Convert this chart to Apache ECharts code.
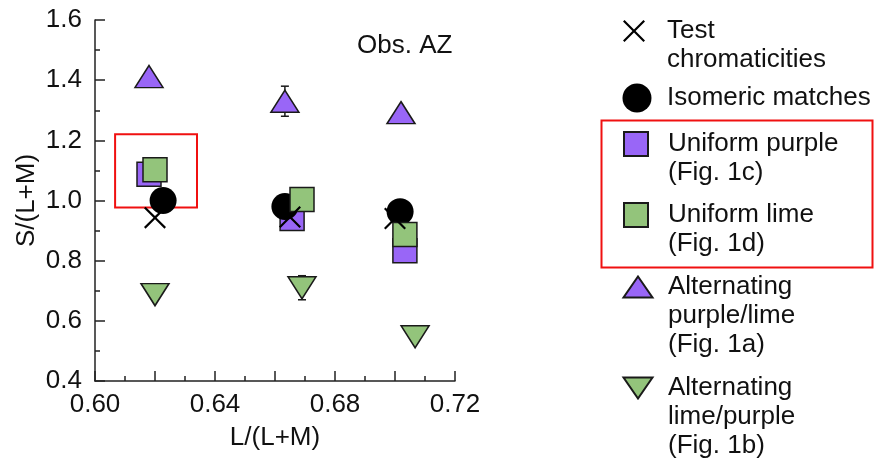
<!DOCTYPE html>
<html><head><meta charset="utf-8">
<script src="https://cdn.jsdelivr.net/npm/echarts@6/dist/echarts.min.js"></script>
<style>html,body{margin:0;padding:0;background:#fff}#c{width:885px;height:462px}</style>
</head><body><div id="c"></div>
<script>
const FONT = "'Liberation Sans', Arial, Helvetica, sans-serif";
const TXT = '#111';
const PURPLE = '#9966f7';
const LIME = '#93c47b';

// axis ranges
const xRange = [0.60, 0.72];
const yRange = [0.4, 1.6];

// series values (L/(L+M), S/(L+M))
const testX = [0.620, 0.665, 0.700];
const testY = [0.943, 0.945, 0.940];
const isoX = [0.6227, 0.6633, 0.7017];
const isoY = [1.000, 0.980, 0.963];
const purpleX = [0.618, 0.6657, 0.7033];
const purpleY = [1.087, 0.940, 0.833];
const limeX = [0.620, 0.669, 0.7033];
const limeY = [1.102, 1.003, 0.887];
const altPLX = [0.618, 0.6633, 0.702];
const altPLY = [1.412, 1.330, 1.292];
const altPLErr = [0, 0.05, 0];
const altLPX = [0.620, 0.669, 0.7067];
const altLPY = [0.687, 0.710, 0.547];
const altLPErr = [0, 0.04, 0];

// highlighted region
const boxX = [0.6067, 0.634];
const boxY = [0.977, 1.22];

const names = ['Test chromaticities', 'Isomeric matches', 'Uniform purple (Fig. 1c)', 'Uniform lime (Fig. 1d)', 'Alternating purple/lime (Fig. 1a)', 'Alternating lime/purple (Fig. 1b)'];
const legendLabels = ['Test\nchromaticities', 'Isomeric matches', 'Uniform purple\n(Fig. 1c)', 'Uniform lime\n(Fig. 1d)', 'Alternating\npurple/lime\n(Fig. 1a)', 'Alternating\nlime/purple\n(Fig. 1b)'];

const zip = (xs, ys) => xs.map((x, i) => [x, ys[i]]);
const CROSS = 'path://M0,7L7,0L50,43L93,0L100,7L57,50L100,93L93,100L50,57L7,100L0,93L43,50Z';
const DOWN_TRI = 'path://M0,0L100,0L50,100Z';

const chart = echarts.init(document.getElementById('c'), null, {renderer: 'canvas'});

const border = {borderColor: '#1a1a1a', borderWidth: 1.5, opacity: 1};
const series = [
  {
    type: 'custom', name: 'errors', z: 1, silent: true,
    data: zip(altPLX, altPLY).map((p, i) => [p[0], p[1], altPLErr[i]])
      .concat(zip(altLPX, altLPY).map((p, i) => [p[0], p[1], altLPErr[i]])),
    encode: {x: 0, y: 1},
    renderItem: function (params, api) {
      const x = api.value(0), y = api.value(1), e = api.value(2);
      if (!e) return null;
      const t = api.coord([x, y + e]), b = api.coord([x, y - e]);
      const st = {stroke: '#1a1a1a', lineWidth: 1.5};
      return {type: 'group', children: [
        {type: 'line', shape: {x1: t[0], y1: t[1], x2: b[0], y2: b[1]}, style: st},
        {type: 'line', shape: {x1: t[0] - 4, y1: t[1], x2: t[0] + 4, y2: t[1]}, style: st},
        {type: 'line', shape: {x1: b[0] - 4, y1: b[1], x2: b[0] + 4, y2: b[1]}, style: st}
      ]};
    }
  },
  {
    type: 'scatter', name: names[2], data: zip(purpleX, purpleY), symbol: 'rect', symbolSize: 24,
    itemStyle: Object.assign({color: PURPLE}, border),
    markArea: {
      silent: true,
      itemStyle: {color: 'rgba(0,0,0,0)', borderColor: '#f01010', borderWidth: 2},
      data: [[{coord: [boxX[0], boxY[1]]}, {coord: [boxX[1], boxY[0]]}]]
    }
  },
  {
    type: 'scatter', name: names[1], data: zip(isoX, isoY), symbol: 'circle', symbolSize: 27,
    itemStyle: {color: '#000', opacity: 1}
  },
  {
    type: 'scatter', name: names[3], data: zip(limeX, limeY), symbol: 'rect', symbolSize: 24,
    itemStyle: Object.assign({color: LIME}, border)
  },
  {
    type: 'scatter', name: names[0], data: zip(testX, testY), symbol: CROSS, symbolSize: 22,
    itemStyle: {color: '#000', opacity: 1}
  },
  {
    type: 'scatter', name: names[4], data: zip(altPLX, altPLY), symbol: 'triangle', symbolSize: [28, 22],
    itemStyle: Object.assign({color: PURPLE}, border)
  },
  {
    type: 'scatter', name: names[5], data: zip(altLPX, altLPY), symbol: DOWN_TRI, symbolSize: [28, 22],
    itemStyle: Object.assign({color: LIME}, border)
  }
];

// legend layout: icon center and icon size for each entry
const legIcon = [
  {x: 634, y: 31, w: 22, h: 22},
  {x: 637, y: 98, w: 29, h: 29},
  {x: 635, y: 144, w: 24, h: 24},
  {x: 635, y: 215, w: 24, h: 24},
  {x: 637, y: 287, w: 29, h: 21},
  {x: 637, y: 388, w: 29, h: 21}
];
const LH = 29;
const legends = names.map((n, i) => {
  const lines = legendLabels[i].split('\n').length;
  const T = 2 * lines - 1;
  const ic = legIcon[i];
  return {
    data: [n], orient: 'vertical', padding: 0, selectedMode: false,
    left: ic.x - ic.w / 2, top: ic.y - T * LH / 2,
    itemWidth: ic.w, itemHeight: ic.h,
    symbolKeepAspect: false,
    itemStyle: {opacity: 1},
    formatter: () => '\n'.repeat(lines - 1) + legendLabels[i],
    textStyle: {fontFamily: FONT, fontSize: 26, lineHeight: LH, color: TXT, padding: [0, 0, 0, 667 - ic.x - ic.w / 2 - 5]}
  };
});

const axisCommon = {
  axisLine: {show: true, onZero: false, lineStyle: {color: '#222', width: 1.5}},
  axisTick: {show: true, inside: true, length: 10, lineStyle: {color: '#222', width: 1.5}},
  minorTick: {show: true, splitNumber: 2, length: 5, lineStyle: {color: '#222', width: 1.5}},
  splitLine: {show: false},
  minorSplitLine: {show: false},
  nameTextStyle: {fontFamily: FONT, fontSize: 26, color: TXT}
};

chart.setOption({
  animation: false,
  backgroundColor: '#fff',
  title: {text: 'Obs. AZ', left: 357, top: 33, padding: 0, textStyle: {fontFamily: FONT, fontSize: 26, fontWeight: 'normal', color: TXT}},
  grid: {left: 95, top: 20, width: 360, height: 361, containLabel: false},
  xAxis: Object.assign({
    type: 'value', min: xRange[0], max: xRange[1], interval: 0.02,
    name: 'L/(L+M)', nameLocation: 'middle', nameGap: 44,
    axisLabel: {fontFamily: FONT, fontSize: 26, color: TXT, margin: 11, showMaxLabel: true, showMinLabel: true,
      formatter: v => (Math.round(v * 100) % 4 === 0 ? v.toFixed(2) : '')}
  }, axisCommon),
  yAxis: Object.assign({
    type: 'value', min: yRange[0], max: yRange[1], interval: 0.2,
    name: 'S/(L+M)', nameLocation: 'middle', nameGap: 55, nameRotate: 90,
    axisLabel: {fontFamily: FONT, fontSize: 26, color: TXT, margin: 13, formatter: v => v.toFixed(1)}
  }, axisCommon),
  legend: legends,
  graphic: [{
    type: 'rect', left: 599, top: 118, shape: {width: 271, height: 147},
    style: {fill: 'none', stroke: '#f01010', lineWidth: 2}, silent: true
  }],
  series: series
});
</script></body></html>
